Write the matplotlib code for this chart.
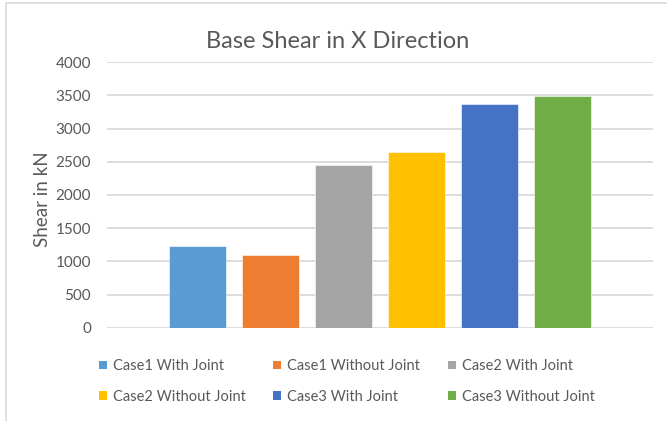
import matplotlib
matplotlib.use("Agg")
import matplotlib.pyplot as plt
from matplotlib.patches import Rectangle, Patch
import numpy as np

# Base shear per case (kN)
series_names = [
    "Case1 With Joint", "Case1 Without Joint", "Case2 With Joint",
    "Case2 Without Joint", "Case3 With Joint", "Case3 Without Joint",
]
shear_values = [1230, 1090, 2455, 2650, 3375, 3495]
series_colors = ["#5b9bd5", "#ed7d31", "#a5a5a5", "#ffc000", "#4472c4", "#70ad47"]
y_ticks = [0, 500, 1000, 1500, 2000, 2500, 3000, 3500, 4000]

TEXT = "#595959"
GRID = "#d9d9d9"
FONT = "Lato"

W, H = 667, 421
fig = plt.figure(figsize=(W / 100, H / 100), dpi=100)
fig.patch.set_facecolor("white")

# chart-area frame (only top and left edges fall inside the image)
fig.add_artist(Rectangle((5.5 / W, -0.05), 1.2, 1 - 2.5 / H + 0.05,
                         transform=fig.transFigure, fill=False,
                         edgecolor=GRID, linewidth=1.2))

ax = fig.add_axes([107 / W, 1 - 327.7 / H, (653 - 107) / W, (327.7 - 62.3) / H])

n = len(shear_values)
step = 0.1335
width = 0.1044
offsets = (np.arange(n) - (n - 1) / 2) * step
for off, val, col, name in zip(offsets, shear_values, series_colors, series_names):
    ax.bar(off, val, width=width, color=col, label=name, zorder=3,
           edgecolor="white", linewidth=0.4)

ax.set_xlim(-0.5, 0.5)
ax.set_ylim(0, 4000)
ax.set_yticks(y_ticks)
ax.set_yticklabels([str(t) for t in y_ticks], fontsize=11, color=TEXT, family=FONT)
ax.set_xticks([])
ax.tick_params(axis="y", length=0, pad=11.5)
ax.grid(axis="y", color=GRID, linewidth=1.3, zorder=0)
for s in ax.spines.values():
    s.set_visible(False)

fig.text(42.5 / W, 1 - 199 / H, "Shear in kN", rotation=90, ha="center", va="center",
         fontsize=13.5, color=TEXT, family=FONT)
fig.text(338 / W, 1 - 42 / H, "Base Shear in X Direction", ha="center", va="center",
         fontsize=17, color=TEXT, family=FONT)

# legend entries run across rows (3 per row)
ncol, nrow = 3, 2
order = [r * ncol + c for c in range(ncol) for r in range(nrow)]
handles = [Patch(facecolor=series_colors[i], edgecolor="none") for i in order]
labels = [series_names[i] for i in order]
leg = fig.legend(handles, labels, ncol=ncol, loc="center left",
                 bbox_to_anchor=(99 / W, 1 - 381.5 / H), frameon=False,
                 prop={"family": FONT, "size": 10.5}, labelcolor=TEXT,
                 handlelength=0.55, handleheight=0.55, handletextpad=0.4,
                 columnspacing=1.9, labelspacing=1.15, borderpad=0, borderaxespad=0)

fig.savefig("out.png", dpi=100, facecolor="white")
